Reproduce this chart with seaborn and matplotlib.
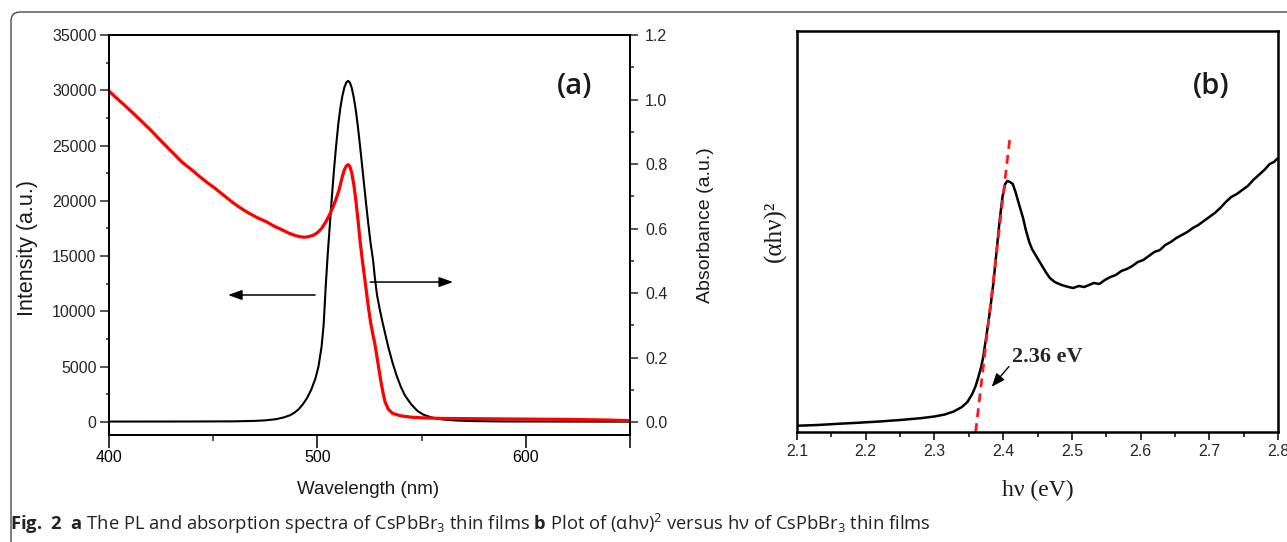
import numpy as np
import pandas as pd
import matplotlib
matplotlib.use("Agg")
import matplotlib.pyplot as plt
from matplotlib.patches import FancyBboxPatch
from matplotlib.ticker import FixedLocator, AutoMinorLocator, NullLocator
import seaborn as sns

# ---------------- data ----------------
# Panel (a): PL spectrum (left axis, counts)
pl_wl = [400, 440, 460, 470, 475, 480, 484, 487, 489, 491, 493, 495, 497, 499,
         500.5, 502, 503, 504, 505, 506, 507, 508, 509, 510, 511, 512, 513, 514,
         514.8, 515.6, 516.5, 517.5, 518.5, 519.5, 520.5, 521.5, 522.5, 523.5,
         524.5, 525.5, 526.7, 527.6, 528.6, 529.8, 531, 532.5, 534, 536, 538,
         540, 542, 545, 548, 551, 555, 560, 567, 575, 590, 620, 650]
pl_int = [40, 45, 60, 100, 150, 250, 420, 620, 850, 1150, 1600, 2150, 2900,
          3900, 5000, 6800, 8800, 12300, 15300, 17900, 20500, 22900, 25000,
          26900, 28400, 29500, 30300, 30750, 30850, 30700, 30200, 29300, 28100,
          26600, 24900, 23100, 21300, 19500, 17800, 16200, 14650, 13000, 11500,
          10300, 9225, 8000, 6800, 5400, 4200, 3200, 2400, 1600, 1000, 650, 400,
          230, 130, 80, 50, 40, 30]

# Panel (a): absorbance spectrum (right axis)
ab_wl = [400, 403, 407, 411.5, 416, 420, 424, 427.8, 431.5, 435, 439.5, 443.7,
         447, 451, 455, 459.5, 463, 467, 471, 475.8, 479, 483, 486.5, 490, 492,
         494, 496, 498, 500, 502, 504, 506, 507.5, 509, 510.5, 512, 513, 514,
         514.8, 515.6, 516.5, 517.5, 518.5, 519.5, 520.5, 521.5, 522.5, 523.5,
         524.5, 525.5, 526.5, 527.5, 528.5, 529.5, 530.5, 531.5, 532.5, 534,
         536, 540, 545, 550, 560, 580, 600, 620, 640, 650]
ab_val = [1.026, 1.008, 0.985, 0.958, 0.930, 0.905, 0.878, 0.853, 0.829, 0.806,
          0.783, 0.760, 0.743, 0.724, 0.703, 0.680, 0.664, 0.648, 0.634, 0.620,
          0.608, 0.596, 0.585, 0.577, 0.574, 0.573, 0.575, 0.579, 0.587, 0.600,
          0.620, 0.645, 0.667, 0.692, 0.722, 0.762, 0.783, 0.795, 0.798, 0.792,
          0.772, 0.735, 0.685, 0.625, 0.560, 0.505, 0.455, 0.405, 0.355, 0.310,
          0.275, 0.245, 0.205, 0.165, 0.125, 0.090, 0.062, 0.040, 0.027, 0.019,
          0.015, 0.013, 0.011, 0.010, 0.009, 0.008, 0.006, 0.004]

# Panel (b): Tauc plot (arbitrary units)
tauc_e = [2.102, 2.13, 2.16, 2.19, 2.22, 2.25, 2.28, 2.30, 2.315, 2.328, 2.34,
          2.348, 2.355, 2.360, 2.364, 2.368, 2.371, 2.376, 2.381, 2.386, 2.390,
          2.395, 2.399, 2.403, 2.406, 2.410, 2.414, 2.418, 2.423, 2.429, 2.433,
          2.438, 2.442, 2.448, 2.455, 2.462, 2.468, 2.475, 2.485, 2.495, 2.502,
          2.510, 2.518, 2.525, 2.532, 2.540, 2.548, 2.556, 2.564, 2.572, 2.580,
          2.588, 2.596, 2.604, 2.612, 2.620, 2.628, 2.636, 2.644, 2.652, 2.660,
          2.668, 2.676, 2.684, 2.692, 2.700, 2.708, 2.716, 2.724, 2.732, 2.740,
          2.748, 2.756, 2.764, 2.772, 2.780, 2.788, 2.794, 2.800]
tauc_y = [6.3, 7.0, 8.2, 9.3, 10.5, 12.0, 13.8, 15.5, 17.5, 20.5, 25, 30, 38,
          46, 55, 65, 75, 98, 122, 150, 178, 212, 235, 248, 251, 250, 248, 240,
          228, 214, 202, 190, 183, 176, 168, 160, 154, 150, 147, 145, 144, 146,
          145, 147, 149, 148, 152, 155, 157, 161, 163, 166, 170, 172, 176, 180,
          182, 187, 190, 194, 197, 200, 204, 207, 211, 215, 219, 224, 230, 235,
          238, 242, 246, 252, 257, 262, 268, 270, 274]
# linear fit of the absorption edge
fit_e = [2.360, 2.410]
fit_y = [0, 295]

xt_a = [400, 500, 600, 650]
xt_a_labels = ["400", "500", "600", ""]
yt_left = [0, 5000, 10000, 15000, 20000, 25000, 30000, 35000]
yt_right = [0.0, 0.2, 0.4, 0.6, 0.8, 1.0, 1.2]
xt_b = [2.1, 2.2, 2.3, 2.4, 2.5, 2.6, 2.7, 2.8]

# ---------------- style ----------------
sns.set_theme(style="ticks")
plt.rcParams["font.family"] = ["Liberation Sans", "DejaVu Sans"]
plt.rcParams["mathtext.fontset"] = "custom"
plt.rcParams["mathtext.rm"] = "Open Sans"
plt.rcParams["mathtext.bf"] = "Open Sans:bold"
plt.rcParams["axes.linewidth"] = 1.4

W, H = 1287, 542
fig = plt.figure(figsize=(W / 100, H / 100), dpi=100)

def fx(px):
    return px / W

def fy(py):
    return 1 - py / H

# frame
bg = fig.add_axes([0, 0, 1, 1], zorder=-5)
bg.set_xlim(0, W)
bg.set_ylim(H, 0)
bg.axis("off")
bg.add_patch(FancyBboxPatch((11, 12), 1400, 700,
                            boxstyle="round,pad=0,rounding_size=9",
                            fc="none", ec="#4a4a4a", lw=1.0))

tick_fs = 11.5

# ---------------- panel (a) ----------------
axa = fig.add_axes([fx(109), fy(435), fx(630) - fx(109), fy(35) - fy(435)])
sns.lineplot(x=pl_wl, y=pl_int, ax=axa, color="black", lw=1.5)
axa.set_xlim(400, 650)
axa.set_ylim(-1176, 35000)
axa.xaxis.set_major_locator(FixedLocator(xt_a))
axa.set_xticklabels(xt_a_labels)
axa.xaxis.set_minor_locator(FixedLocator([450, 550]))
axa.yaxis.set_major_locator(FixedLocator(yt_left))
axa.set_yticklabels([str(v) for v in yt_left])
axa.yaxis.set_minor_locator(AutoMinorLocator(2))
axa.tick_params(axis="x", which="major", direction="out", length=9.4, width=1.1,
                labelsize=tick_fs, pad=1.5, colors="black")
axa.tick_params(axis="x", which="minor", direction="out", length=4.3, width=1.1)
axa.tick_params(axis="y", which="major", direction="out", length=6.5, width=1.1,
                labelsize=tick_fs, pad=2.5)
axa.tick_params(axis="y", which="minor", direction="out", length=2.5, width=1.1)
for s in axa.spines.values():
    s.set_color("black")
    s.set_linewidth(1.4)
axa.set_xlabel("Wavelength (nm)", fontsize=13.5, color="#1a1a1a")
axa.xaxis.set_label_coords(0.497, -0.115)
axa.set_ylabel("Intensity (a.u.)", fontsize=15.5, va="center", color="#1a1a1a")
axa.yaxis.set_label_coords((28 - 109) / 521, (435 - 248) / 400)

axb2 = axa.twinx()
sns.lineplot(x=ab_wl, y=ab_val, ax=axb2, color="#ff0000", lw=2.3)
axb2.set_ylim(-0.0403, 1.2)
axb2.yaxis.set_major_locator(FixedLocator(yt_right))
axb2.set_yticklabels([f"{v:.1f}" for v in yt_right])
axb2.yaxis.set_minor_locator(AutoMinorLocator(2))
axb2.tick_params(axis="y", which="major", direction="out", length=5.8, width=1.1,
                 labelsize=tick_fs, pad=5)
axb2.tick_params(axis="y", which="minor", direction="out", length=2.9, width=1.1)
for s in axb2.spines.values():
    s.set_color("black")
    s.set_linewidth(1.4)
axb2.set_ylabel("Absorbance (a.u.)", fontsize=14, rotation=90, va="center",
                ha="center", color="#1a1a1a")
axb2.yaxis.set_label_coords((705 - 109) / 521, (435 - 225) / 400)

# arrows
axa.annotate("", xy=(457.1, 11486), xytext=(498.9, 11486),
             arrowprops=dict(arrowstyle="-|>,head_length=0.7,head_width=0.25",
                             color="black", lw=1.1, shrinkA=0, shrinkB=0))
axb2.annotate("", xy=(565.1, 0.434), xytext=(525.3, 0.434),
              arrowprops=dict(arrowstyle="-|>,head_length=0.7,head_width=0.25",
                              color="black", lw=1.1, shrinkA=0, shrinkB=0))
fig.text(fx(574.5), fy(87), "(a)", fontsize=21, fontweight="semibold",
         family=["Open Sans", "DejaVu Sans"], ha="center", va="center",
         color="#1a1a1a")

# ---------------- panel (b) ----------------
axb = fig.add_axes([fx(797), fy(432), fx(1278) - fx(797), fy(31) - fy(432)])
sns.lineplot(x=tauc_e, y=tauc_y, ax=axb, color="black", lw=1.8)
sns.lineplot(x=fit_e, y=fit_y, ax=axb, color="#ff1a1a", lw=2.0,
             linestyle=(0, (3.2, 2.2)))
axb.set_xlim(2.1, 2.8)
axb.set_ylim(0, 401)
axb.xaxis.set_major_locator(FixedLocator(xt_b))
axb.set_xticklabels([f"{v:.1f}" for v in xt_b])
axb.xaxis.set_minor_locator(AutoMinorLocator(2))
axb.yaxis.set_major_locator(NullLocator())
axb.yaxis.set_minor_locator(NullLocator())
axb.tick_params(axis="x", which="major", direction="out", length=5.8, width=1.3,
                labelsize=tick_fs, pad=3)
axb.tick_params(axis="x", which="minor", direction="out", length=3.6, width=1.3)
for s in axb.spines.values():
    s.set_color("black")
    s.set_linewidth(1.8)
axb.set_xlabel("hν (eV)", fontsize=17, family=["Liberation Serif", "DejaVu Serif"],
               color="#1a1a1a")
axb.xaxis.set_label_coords(0.5, -0.12)
axb.set_ylabel("(αhν)²", fontsize=18, family=["Liberation Serif", "DejaVu Serif"],
               va="center", color="#1a1a1a")
axb.yaxis.set_label_coords((775 - 797) / 481, 0.5)

axb.annotate("2.36 eV", xy=(2.3834, 45.3), xytext=(2.4646, 75.3),
             fontsize=16, fontweight="bold",
             family=["Liberation Serif", "DejaVu Serif"], ha="center", va="center",
             arrowprops=dict(arrowstyle="-|>,head_length=0.5,head_width=0.2",
                             color="black", lw=1.0, shrinkA=0, shrinkB=0,
                             relpos=(0.0, 0.2)))
fig.text(fx(1211), fy(86), "(b)", fontsize=21, fontweight="semibold",
         family=["Open Sans", "DejaVu Sans"], ha="center", va="center",
         color="#1a1a1a")

# ---------------- caption ----------------
caption = (r"$\mathbf{Fig.\ 2}$  $\mathbf{a}$ The PL and absorption spectra of "
           r"CsPbBr$_3$ thin films $\mathbf{b}$ Plot of (αhν)$^2$ versus hν of "
           r"CsPbBr$_3$ thin films")
fig.text(fx(10), fy(524), caption, fontsize=13.2, family=["Open Sans", "DejaVu Sans"],
         ha="left", va="center", color="#222222")

fig.savefig("out.png", dpi=100)
